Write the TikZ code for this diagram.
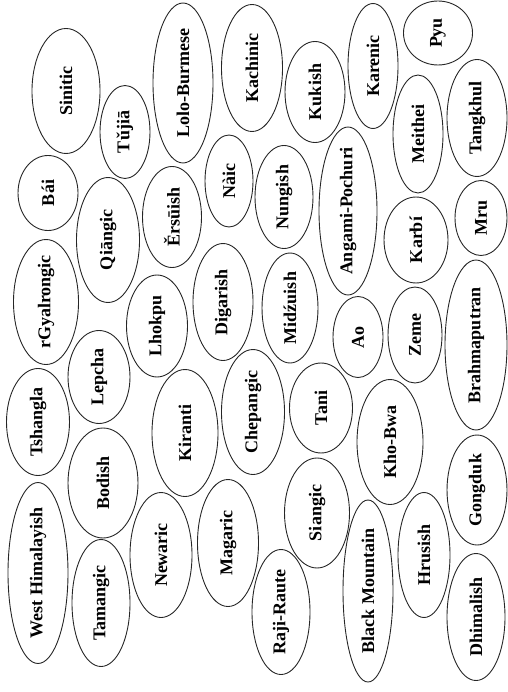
\documentclass[tikz,border=0pt]{standalone}
\usepackage{fontspec}
\setmainfont{Liberation Serif}
\usetikzlibrary{shapes.geometric}
\newcommand\lbl[1]{\makebox[0pt][c]{#1}}
\begin{document}
\begin{tikzpicture}[x=1pt,y=-1pt,
  lang/.style={draw=black!85, ellipse, line width=0.9pt, inner sep=0pt, rotate=90,
    font=\bfseries\fontsize{18}{18}\selectfont}]
\useasboundingbox (0,0) rectangle (507,692);
\newcommand\lang[6]{\node[lang, minimum width=#5pt, minimum height=#4pt] (#6) at (#1,#2) {\lbl{#3}};}
\lang{66}{91}{Sinitic}{68}{125}{sinitic}
\lang{125}{132}{Tǔjiā}{50}{93}{tujia}
\lang{183}{83}{Lolo-Burmese}{60}{160}{lolo}
\lang{252}{68}{Kachinic}{61}{127}{kachinic}
\lang{315}{92}{Kukish}{60}{101}{kukish}
\lang{373}{66}{Karenic}{50}{125}{karenic}
\lang{438}{33}{Pyu}{69}{64}{pyu}
\lang{477}{118}{Tangkhul}{60}{117}{tangkhul}
\lang{418}{134}{Meithei}{50}{118}{meithei}
\lang{48}{193}{Bái}{60}{75}{bai}
\lang{108}{240}{Qiāngic}{63}{125}{qiangic}
\lang{172}{217}{Ěrsūish}{59}{101}{ersuish}
\lang{229}{181}{Nàic}{48}{92}{naic}
\lang{284}{197}{Nungish}{58}{103}{nungish}
\lang{348}{211}{Angami-Pochuri}{58}{168}{angami}
\lang{416}{240}{Karbí}{64}{86}{karbi}
\lang{481}{218}{Mru}{52}{75}{mru}
\lang{46}{302}{rGyalrongic}{65}{125}{rgyalrongic}
\lang{157}{326}{Lhokpu}{61}{102}{lhokpu}
\lang{223}{302}{Digarish}{60}{117}{digarish}
\lang{290}{308}{Midźuish}{56}{110}{midzuish}
\lang{358}{337}{Ao}{50}{81}{ao}
\lang{415}{335}{Zeme}{54}{96}{zeme}
\lang{476}{345}{Brahmaputran}{62}{170}{brahmaputran}
\lang{38}{422}{Tshangla}{63}{107}{tshangla}
\lang{99}{377}{Lepcha}{62}{93}{lepcha}
\lang{185}{433}{Kiranti}{66}{127}{kiranti}
\lang{253}{412}{Chepangic}{63}{125}{chepangic}
\lang{321}{408}{Tani}{63}{90}{tani}
\lang{390}{442}{Kho-Bwa}{66}{125}{khobwa}
\lang{477}{490}{Gongduk}{60}{110}{gongduk}
\lang{103}{483}{Bodish}{70}{110}{bodish}
\lang{38}{573}{West Himalayish}{60}{181}{westhim}
\lang{101}{603}{Tamangic}{58}{127}{tamangic}
\lang{161}{555}{Newaric}{62}{125}{newaric}
\lang{228}{543}{Magaric}{61}{127}{magaric}
\lang{317}{513}{Siangic}{65}{110}{siangic}
\lang{281}{612}{Raji-Raute}{58}{125}{rajiraute}
\lang{368}{591}{Black Mountain}{50}{182}{blackmountain}
\lang{424}{555}{Hrusish}{52}{125}{hrusish}
\lang{476}{617}{Dhimalish}{58}{127}{dhimalish}
\end{tikzpicture}
\end{document}
